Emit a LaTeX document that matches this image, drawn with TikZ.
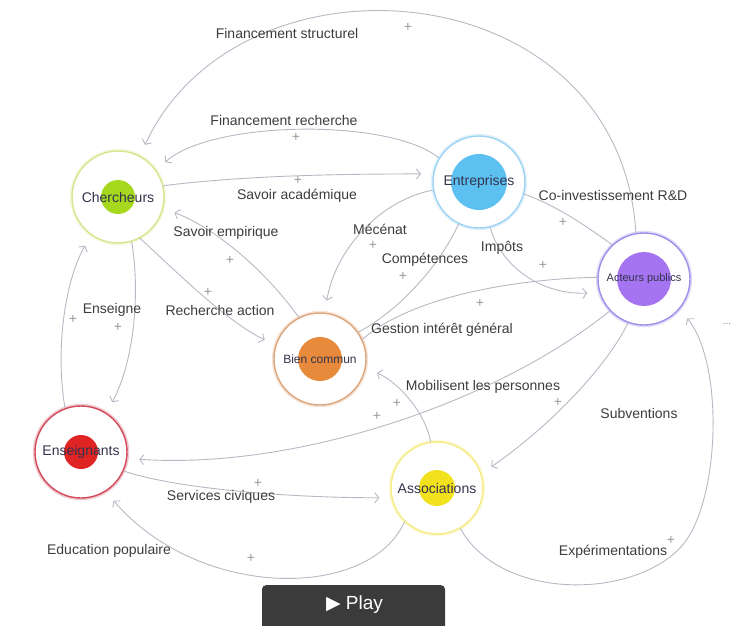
\documentclass[tikz,border=0pt]{standalone}
\usepackage{fontspec}
\setmainfont{Liberation Sans}
\newfontfamily\symbfont{DejaVu Sans}
\usetikzlibrary{arrows.meta}

\definecolor{trait}{HTML}{B8B8C4}
\definecolor{texte}{HTML}{3C3C3C}
\definecolor{nomacteur}{HTML}{33334D}
\definecolor{ringch}{HTML}{D6E68F}\definecolor{diskch}{HTML}{A6D91E}
\definecolor{ringen}{HTML}{9DD3F3}\definecolor{disken}{HTML}{5CC1F1}
\definecolor{ringap}{HTML}{A08EEC}\definecolor{diskap}{HTML}{A574F1}
\definecolor{ringbc}{HTML}{DDA57A}\definecolor{diskbc}{HTML}{E88A3B}
\definecolor{ringes}{HTML}{D14B5B}\definecolor{diskes}{HTML}{E02323}
\definecolor{ringas}{HTML}{F4EC80}\definecolor{diskas}{HTML}{F2E11D}
\definecolor{bouton}{HTML}{3B3B3B}

\begin{document}
\begin{tikzpicture}[x=1pt,y=-1pt,>={Straight Barb[length=4pt,width=10pt]},
  acteur/.style n args={3}{circle,minimum size=92pt,inner sep=0pt,fill=white,
    draw=#1,line width=1.4pt,preaction={draw=#1!30,line width=4.5pt},
    text=nomacteur,font=\fontsize{14}{16}\selectfont,
    path picture={\fill[#2] (path picture bounding box.center) circle (#3);}},
  flux/.style={draw=trait,line width=0.9pt,->,shorten >=12pt},
  lien/.style={draw=trait,line width=0.9pt},
  etiq/.style={text=texte,font=\fontsize{14}{16}\selectfont,inner sep=1pt},
  plus/.style={text=gray!80,font=\fontsize{14}{14}\selectfont,inner sep=0pt}]
  \clip (0,0) rectangle (739,626);
  % acteurs
  \node[acteur={ringch}{diskch}{17pt}] (ch) at (118,197) {Chercheurs};
  \node[acteur={ringen}{disken}{28pt}] (en) at (479,182) {Entreprises};
  \node[acteur={ringap}{diskap}{27pt},font=\fontsize{11}{13}\selectfont] (ap) at (644,279) {Acteurs publics};
  \node[acteur={ringbc}{diskbc}{22pt},font=\fontsize{12}{14}\selectfont] (bc) at (320,359) {Bien commun};
  \node[acteur={ringes}{diskes}{17pt}] (es) at (81,452) {Enseignants};
  \node[acteur={ringas}{diskas}{18pt}] (as) at (437,488) {Associations};
  % flux
  \draw[flux] (ap.100) .. controls (620,-30) and (240,-60) .. (ch.62);
  \draw[flux] (en.149) .. controls (390,118) and (212,120) .. (ch.35);
  \draw[flux] (ch.14) .. controls (250,175) and (346,174) .. (en.170);
  \draw[flux] (en.190) .. controls (380,200) and (335,250) .. (bc.84);
  \draw[lien] (en.244) .. controls (440,265) and (400,310) .. (bc.35);
  \draw[lien] (bc.25) .. controls (420,290) and (540,278) .. (ap.178);
  \draw[flux] (en.284) .. controls (500,265) and (540,295) .. (ap.197);
  \draw[lien] (en.345) .. controls (555,205) and (585,225) .. (ap.133);
  \draw[flux] (bc.117) .. controls (265,270) and (215,228) .. (ch.-14);
  \draw[flux] (ch.298) .. controls (180,275) and (225,320) .. (bc.163);
  \draw[flux] (ch.287) .. controls (140,290) and (135,360) .. (es.57);
  \draw[flux] (es.110) .. controls (55,350) and (65,280) .. (ch.235);
  \draw[flux] (as.98) .. controls (425,410) and (395,380) .. (bc.-12);
  \draw[flux] (ap.223) .. controls (500,400) and (300,470) .. (es.-8);
  \draw[flux] (ap.250) .. controls (605,370) and (545,430) .. (as.18);
  \draw[flux] (es.-24) .. controls (180,490) and (300,498) .. (as.192);
  \draw[flux] (as.226) .. controls (370,600) and (200,601) .. (es.-58);
  \coordinate (virage) at (680,548);
  \draw[flux] (as.300) .. controls (500,600) and (630,600) .. (virage)
    .. controls (720,506) and (725,365) .. (ap.320);
  % etiquettes
  \foreach \x/\y/\n/\t in {287/33/fs/Financement structurel,
      284/120/fr/Financement recherche, 297/196/sa/Savoir académique,
      613/195/ci/Co-investissement R\&D, 226/233/se/Savoir empirique,
      380/229/me/Mécénat, 425/260/co/Compétences, 502/248/im/Impôts,
      442/330/gi/Gestion intérêt général, 112/310/ei/Enseigne,
      220/310/ra/Recherche action, 483/387/mp/Mobilisent les personnes,
      639/413/su/Subventions, 221/497/sc/Services civiques,
      109/551/ep/Education populaire, 613/552/ex/Expérimentations}
    \node[etiq] (l-\n) at (\x,\y) {\t};
  \foreach \x/\y [count=\i] in {408/27, 296/137, 298/180, 563/222, 230/260,
      373/245, 403/276, 543/265, 480/303, 208/292, 73/319, 118/327, 397/403,
      377/416, 558/402, 258/483, 251/558, 671/540}
    \node[plus] (p\i) at (\x,\y) {+};
  \node[text=gray,font=\fontsize{10}{10}\selectfont] (suite) at (727,324) {...};
  % bouton
  \node[fill=bouton,rounded corners=4pt,minimum width=183pt,minimum height=50pt,
    anchor=north] (play) at (353.5,585) {};
  \node[text=white,font=\fontsize{19}{20}\selectfont] (play-t) at (354.5,605)
    {{\symbfont ▶} Play};
\end{tikzpicture}
\end{document}
